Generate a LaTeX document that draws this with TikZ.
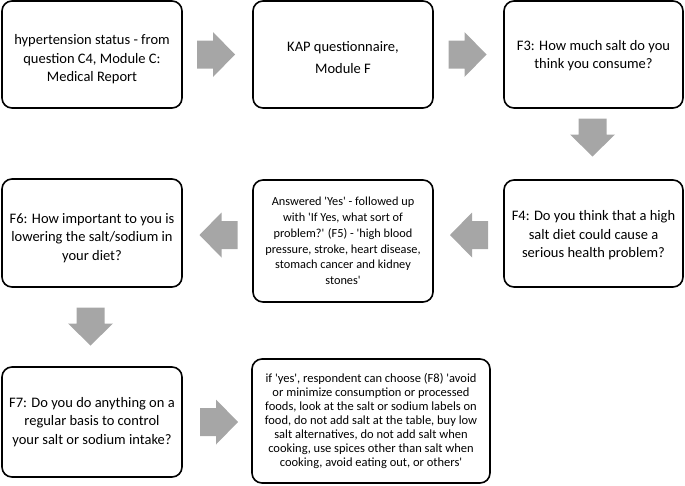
\documentclass[tikz,border=0pt]{standalone}
\usepackage{fontspec}
\setmainfont{Carlito}
\usetikzlibrary{calc}
\newcommand{\sq}{\textquotesingle}
\definecolor{arrowgray}{HTML}{A6A6A6}
\tikzset{
  qbox/.style={draw=black, line width=1.6pt, rounded corners=10pt, fill=white},
  bigtxt/.style={align=center, inner sep=0pt, font=\fontsize{14.5}{18.5}\selectfont},
  midtxt/.style={align=center, inner sep=0pt, font=\fontsize{12.3}{15.7}\selectfont},
  smalltxt/.style={align=center, inner sep=0pt, font=\fontsize{12.5}{13.9}\selectfont},
  blockarrow/.pic={\fill[arrowgray] (-19,-14) -- (-3,-14) -- (-3,-22.5) -- (19,0) -- (-3,22.5) -- (-3,14) -- (-19,14) -- cycle;}
}
\begin{document}
\begin{tikzpicture}[x=1pt,y=-1pt]
\useasboundingbox (0,0) rectangle (685,485);
% boxes
\draw[qbox] (2,1) rectangle (182,108);
\coordinate (b1) at (92,54.5);
\draw[qbox] (253,1) rectangle (433,108);
\coordinate (b2) at (343,54.5);
\draw[qbox] (504,1) rectangle (683,108);
\coordinate (b3) at (593.5,54.5);
\draw[qbox] (504,180) rectangle (683,287);
\coordinate (b4) at (593.5,233.5);
\draw[qbox] (253,180) rectangle (433,302);
\coordinate (b5) at (343,241);
\draw[qbox] (2,179) rectangle (182,287);
\coordinate (b6) at (92,233);
\draw[qbox] (2,367) rectangle (182,477);
\coordinate (b7) at (92,422);
\draw[qbox] (252,359) rectangle (490,483);
\coordinate (b8) at (371,421);
% texts
\node[bigtxt] (t1) at ($(b1)+(0,5)$) {hypertension status - from\\question C4, Module C:\\Medical Report};
\node[bigtxt] (t2) at ($(b2)+(0,3)$) {KAP questionnaire,\\[4pt]Module F};
\node[bigtxt] (t3) at ($(b3)+(0,1)$) {F3: How much salt do you\\think you consume?};
\node[bigtxt] (t4) at ($(b4)+(0,2)$) {F4: Do you think that a high\\salt diet could cause a\\serious health problem?};
\node[midtxt] (t5) at (b5) {Answered \sq Yes\sq{} - followed up\\with \sq If Yes, what sort of\\problem?\sq{} (F5) - \sq high blood\\pressure, stroke, heart disease,\\stomach cancer and kidney\\stones\sq};
\node[bigtxt] (t6) at ($(b6)+(0,5)$) {F6: How important to you is\\lowering the salt/sodium in\\your diet?};
\node[bigtxt] (t7) at (b7) {F7: Do you do anything on a\\regular basis to control\\your salt or sodium intake?};
\node[smalltxt] (t8) at (b8) {if \sq yes\sq, respondent can choose (F8) \sq avoid\\or minimize consumption or processed\\foods, look at the salt or sodium labels on\\food, do not add salt at the table, buy low\\salt alternatives, do not add salt when\\cooking, use spices other than salt when\\cooking, avoid eating out, or others\sq};
% block arrows
\pic at (216,54.5) {blockarrow};
\pic at (467.5,54.5) {blockarrow};
\pic[rotate=-90] at (592.5,137.5) {blockarrow};
\pic[rotate=180] at (469,235) {blockarrow};
\pic[rotate=180] at (218.5,235) {blockarrow};
\pic[rotate=-90] at (90.5,326.5) {blockarrow};
\pic at (219,422) {blockarrow};
\end{tikzpicture}
\end{document}
